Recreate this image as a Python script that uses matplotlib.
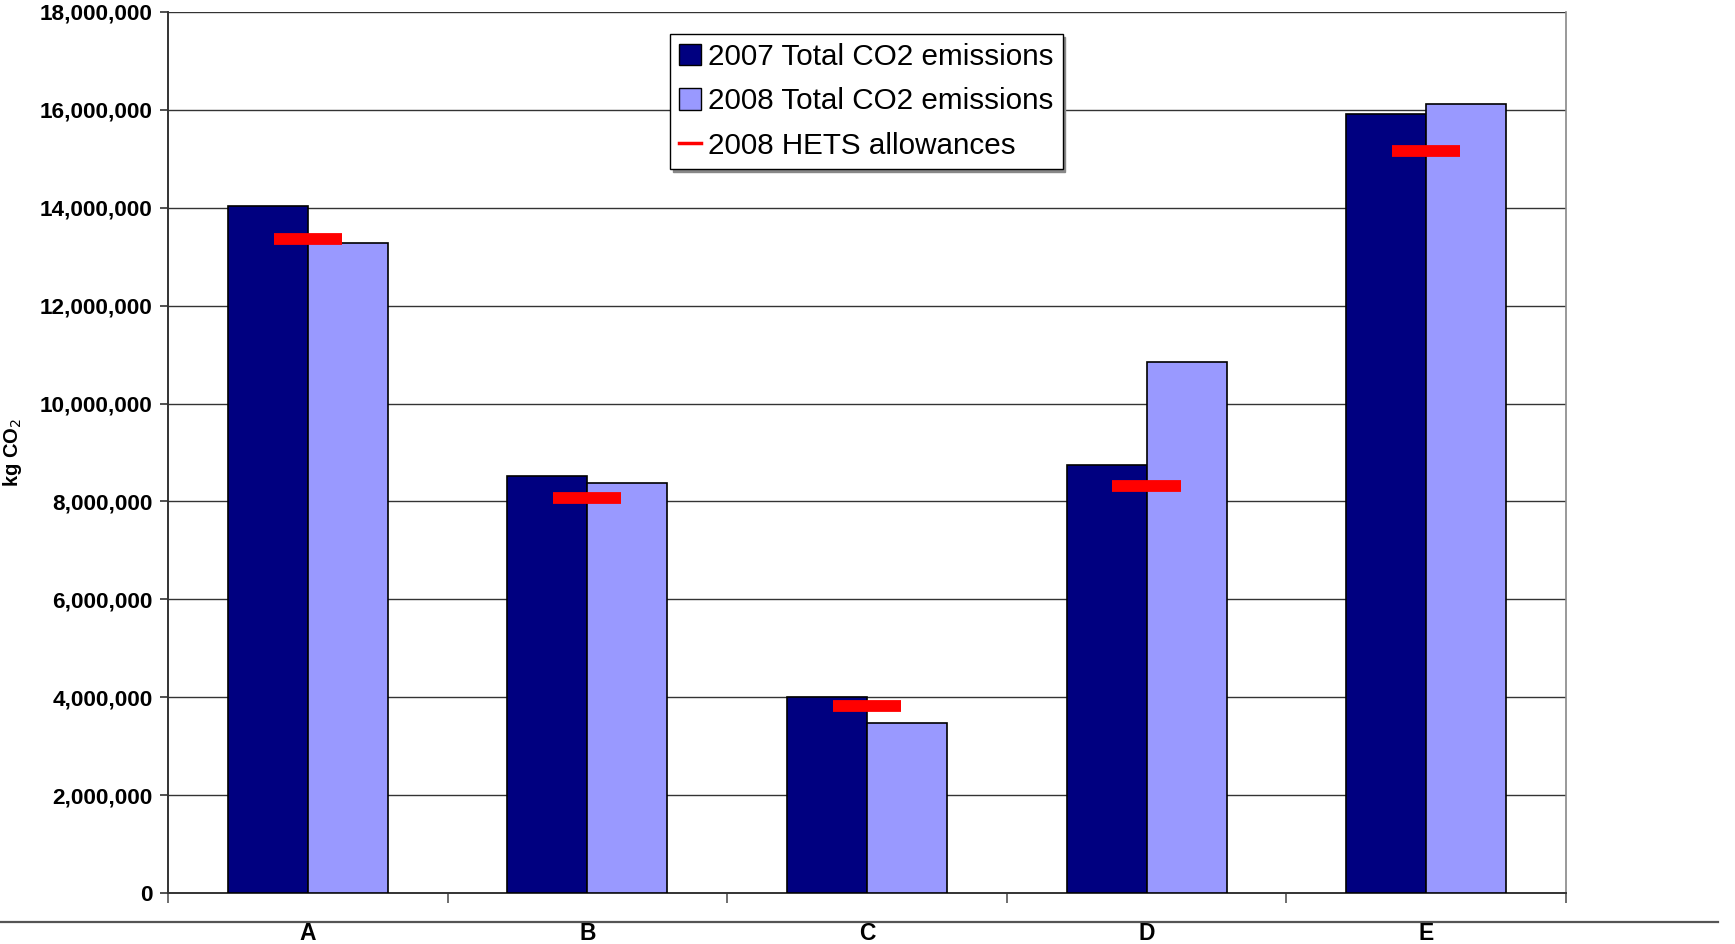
import matplotlib
matplotlib.use("Agg")
import matplotlib.pyplot as plt
import numpy as np
from matplotlib.lines import Line2D
from matplotlib.patches import Patch
from matplotlib.ticker import FuncFormatter, MultipleLocator

# Emissions per installation (kg CO2)
categories = ["A", "B", "C", "D", "E"]
emissions_2007 = [14030000, 8510000, 4000000, 8740000, 15910000]
emissions_2008 = [13290000, 8380000, 3470000, 10845000, 16120000]
allowances_2008 = [13370000, 8080000, 3830000, 8320000, 15150000]

series_labels = ["2007 Total CO2 emissions", "2008 Total CO2 emissions", "2008 HETS allowances"]

DARK = "#000080"
LIGHT = "#9999FF"
RED = "#FF0000"

plt.rcParams["font.family"] = ["Liberation Sans", "DejaVu Sans"]

fig = plt.figure(figsize=(17.35, 9.44), dpi=100)
ax = fig.add_axes([0.0968, 0.054, 0.8058, 0.9333])

x = np.arange(len(categories))
bar_w = 0.286

ax.bar(x - bar_w / 2, emissions_2007, width=bar_w, color=DARK,
       edgecolor="black", linewidth=1.2, zorder=3)
ax.bar(x + bar_w / 2, emissions_2008, width=bar_w, color=LIGHT,
       edgecolor="black", linewidth=1.2, zorder=3)
ax.hlines(allowances_2008, x - 0.122, x + 0.122, colors=RED,
          linewidth=8.5, zorder=4, capstyle="butt")

ax.set_xlim(-0.5, len(categories) - 0.5)
ax.set_ylim(0, 18000000)
ax.yaxis.set_major_locator(MultipleLocator(2000000))
ax.yaxis.set_major_formatter(FuncFormatter(lambda v, p: f"{v:,.0f}"))
ax.grid(axis="y", color="#333333", linewidth=1.0, zorder=0)
ax.set_axisbelow(True)

# category boundaries carry the ticks, names sit at the centres
ax.set_xticks(np.arange(-0.5, len(categories), 1.0))
ax.set_xticklabels([])
ax.set_xticks(x, minor=True)
ax.set_xticklabels(categories, minor=True, fontsize=16.5, fontweight="bold")
ax.tick_params(axis="x", which="major", direction="out", length=7,
               width=1.2, color="#555555")
ax.tick_params(axis="x", which="minor", length=0, pad=21)
ax.tick_params(axis="y", direction="out", length=6, width=1.2,
               color="#333333", labelsize=16.2, pad=5)
for lbl in ax.get_yticklabels():
    lbl.set_fontweight("bold")

for side in ["left", "bottom"]:
    ax.spines[side].set_color("#333333")
    ax.spines[side].set_linewidth(1.4)
ax.spines["top"].set_visible(False)
ax.spines["right"].set_color("#888888")
ax.spines["right"].set_linewidth(1.2)

ax.set_ylabel("kg CO$_2$", fontsize=14.5, fontweight="bold")
ax.yaxis.set_label_coords(-0.103, 0.5)

handles = [
    Patch(facecolor=DARK, edgecolor="black", linewidth=1.0),
    Patch(facecolor=LIGHT, edgecolor="black", linewidth=1.0),
    Line2D([0], [0], color=RED, linewidth=2.5),
]
leg = ax.legend(handles, series_labels, loc="upper left",
                bbox_to_anchor=(0.359, 0.975), borderaxespad=0,
                fontsize=21.3, frameon=True, fancybox=False,
                shadow={"color": "#888888", "alpha": 1.0},
                handlelength=0.75, handleheight=0.75, handletextpad=0.25,
                labelspacing=0.56, borderpad=0.3)
leg.get_frame().set_edgecolor("black")
leg.get_frame().set_linewidth(1.0)
leg.set_zorder(10)

# full-width rule under the plot
fig.add_artist(Line2D([0.0, 0.99], [1 - 922 / 944, 1 - 922 / 944],
                      transform=fig.transFigure, color="#555555",
                      linewidth=1.6, zorder=-1))

fig.savefig("out.png", dpi=100)
